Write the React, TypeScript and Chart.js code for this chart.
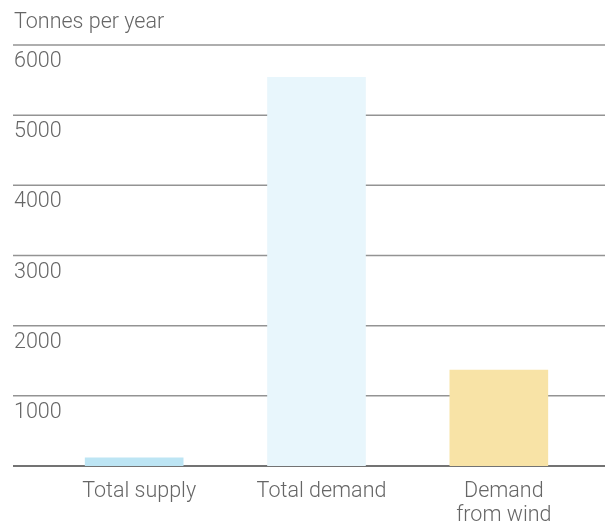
import React, { useEffect, useRef } from "react";
import { Chart, registerables } from "chart.js";

Chart.register(...registerables);

const categories: string[][] = [["Total supply"], ["Total demand"], ["Demand", "from wind"]];
const values = [115, 5540, 1368];
const barColors = ["#BDE5F4", "#E8F6FC", "#F8E3A6"];
const yTicks = [0, 1000, 2000, 3000, 4000, 5000, 6000];
const yTitle = "Tonnes per year";

const FONT = "Roboto, 'Helvetica Neue', 'Liberation Sans', sans-serif";
const TEXT = "#666666";

const gridPlugin = {
  id: "fullGrid",
  beforeDatasetsDraw(chart: any) {
    const ctx = chart.ctx;
    const y = chart.scales.y;
    const x = chart.scales.x;
    const w = chart.width;
    ctx.save();
    ctx.font = `300 21.5px ${FONT}`;
    ctx.fillStyle = TEXT;
    ctx.textAlign = "left";
    ctx.textBaseline = "alphabetic";
    ctx.fillText(yTitle, 14, 28);
    for (const t of yTicks) {
      const py = y.getPixelForValue(t);
      ctx.beginPath();
      ctx.lineWidth = 1.5;
      ctx.strokeStyle = t === 0 ? "#444444" : "#939393";
      ctx.moveTo(13, py);
      ctx.lineTo(w, py);
      ctx.stroke();
      if (t > 0) {
        ctx.fillText(String(t), 14, py + 22);
      }
    }
    // category labels
    ctx.textAlign = "center";
    const base = y.getPixelForValue(0);
    categories.forEach((lines, i) => {
      const cx = x.getPixelForValue(i) + 5;
      lines.forEach((line, j) => {
        ctx.fillText(line, cx, base + 31 + j * 24);
      });
    });
    ctx.restore();
  },
};

export default function App() {
  const ref = useRef<HTMLCanvasElement | null>(null);
  useEffect(() => {
    if (!ref.current) return;
    const chart = new Chart(ref.current, {
      type: "bar",
      data: {
        labels: categories,
        datasets: [
          {
            data: values,
            backgroundColor: barColors,
            borderWidth: 0,
            barThickness: 98,
          },
        ],
      },
      options: {
        animation: false,
        responsive: true,
        maintainAspectRatio: false,
        layout: { padding: { left: 43, right: 15, top: 45, bottom: 0 } },
        plugins: { legend: { display: false }, tooltip: { enabled: false }, title: { display: false } },
        scales: {
          x: {
            grid: { display: false, drawTicks: false, tickLength: 0 },
            border: { display: false },
            ticks: { display: false },
            afterFit: (scale: any) => {
              scale.height = 59;
            },
          },
          y: {
            display: false,
            min: 0,
            max: 6000,
          },
        },
      },
      plugins: [gridPlugin],
    });
    return () => chart.destroy();
  }, []);
  return (
    <div style={{ position: "fixed", left: 0, top: 0, width: 605, height: 525, background: "#fff" }}>
      <canvas ref={ref} />
    </div>
  );
}
